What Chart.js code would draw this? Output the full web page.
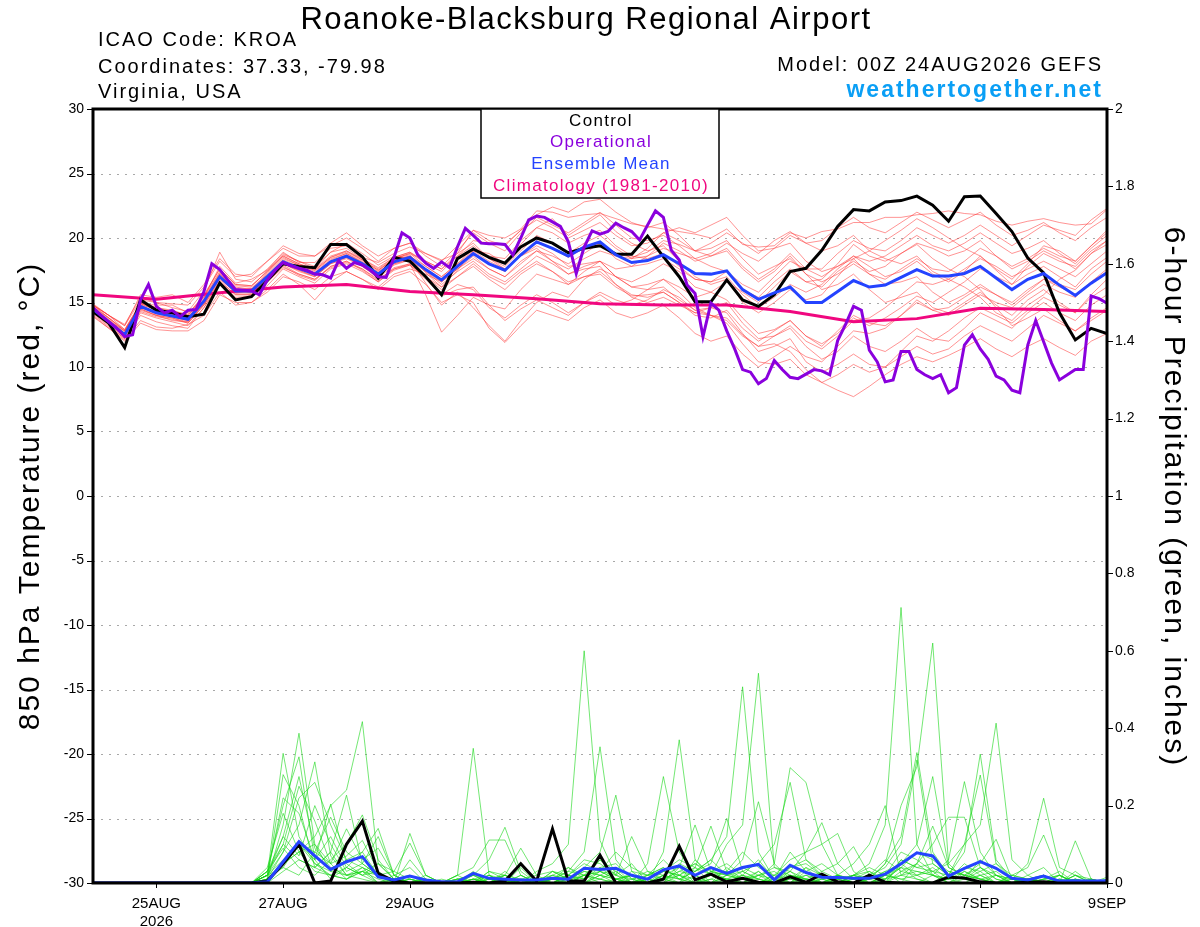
<!DOCTYPE html>
<html>
<head>
<meta charset="utf-8">
<script src="https://cdn.jsdelivr.net/npm/chart.js@4.4.1/dist/chart.umd.min.js"></script>
<style>
  html, body { margin: 0; padding: 0; background: #fff; }
</style>
</head>
<body>
<canvas id="meteogram" width="1200" height="927"></canvas>
<script>
// forecast hours from 00Z 24AUG2026
const hours6 = [0,6,12,18,24,30,36,42,48,54,60,66,72,78,84,90,96,102,108,114,120,126,132,138,144,150,156,162,168,174,180,186,192,198,204,210,216,222,228,234,240,246,252,258,264,270,276,282,288,294,300,306,312,318,324,330,336,342,348,354,360,366,372,378,384];
const hours3 = [0,3,6,9,12,15,18,21,24,27,30,33,36,39,42,45,48,51,54,57,60,63,66,69,72,75,78,81,84,87,90,93,96,99,102,105,108,111,114,117,120,123,126,129,132,135,138,141,144,147,150,153,156,159,162,165,168,171,174,177,180,183,186,189,192,195,198,201,204,207,210,213,216,219,222,225,228,231,234,237,240,243,246,249,252,255,258,261,264,267,270,273,276,279,282,285,288,291,294,297,300,303,306,309,312,315,318,321,324,327,330,333,336,339,342,345,348,351,354,357,360,363,366,369,372,375,378,381,384];
const climoHours = [0,24,48,72,96,120,144,168,192,216,240,264,288,312,336,360,384];
const precipHours = [60,66,72,78,84,90,96,102,108,114,120,126,132,138,144,150,156,162,168,174,180,186,192,198,204,210,216,222,228,234,240,246,252,258,264,270,276,282,288,294,300,306,312,318,324,330,336,342,348,354,360,366,372,378,384];

const tickHours = [24, 72, 120, 192, 240, 288, 336, 384];
const tickLabels = [['25AUG', '2026'], '27AUG', '29AUG', '1SEP', '3SEP', '5SEP', '7SEP', '9SEP'];

// 850 hPa temperature (C)
const controlTemp = [
  14.3, 13.4, 11.5, 15.2, 14.4, 14.2, 13.9, 14.1,
  16.5, 15.2, 15.45, 16.7, 18.0, 17.8, 17.7, 19.5,
  19.5, 18.55, 16.9, 18.5, 18.2, 17.0, 15.6, 18.4,
  19.15, 18.5, 18.05, 19.3, 20.0, 19.6, 18.85, 19.2,
  19.4, 18.75, 18.75, 20.15, 18.55, 17.0, 15.05, 15.05,
  16.75, 15.2, 14.7, 15.6, 17.4, 17.65, 19.05, 20.9,
  22.2, 22.1, 22.8, 22.9, 23.25, 22.55, 21.3, 23.2,
  23.25, 21.9, 20.5, 18.45, 17.3, 14.2, 12.1, 13.0,
  12.6
];
const meanTemp = [
  14.5, 13.5, 12.5, 14.7, 14.2, 13.95, 13.7, 15.1,
  17.0, 15.9, 15.9, 17.0, 18.15, 17.65, 17.2, 18.15,
  18.6, 18.0, 17.2, 18.15, 18.5, 17.55, 16.75, 17.8,
  18.8, 18.0, 17.5, 18.7, 19.7, 19.2, 18.6, 19.3,
  19.7, 18.7, 18.1, 18.25, 18.7, 18.0, 17.25, 17.2,
  17.45, 16.0, 15.25, 15.75, 16.2, 15.0, 15.0, 15.85,
  16.7, 16.2, 16.35, 16.95, 17.55, 17.05, 17.05, 17.25,
  17.8, 16.9, 16.0, 16.8, 17.25, 16.35, 15.55, 16.5,
  17.3
];
const operTemp = [
  14.6, 14.0, 13.5, 13.0, 12.35, 12.5, 15.2, 16.4,
  14.7, 14.2, 14.4, 13.9, 14.4, 14.45, 15.85, 18.0,
  17.55, 16.75, 16.0, 15.95, 15.9, 15.6, 16.75, 17.5,
  18.1, 17.85, 17.65, 17.5, 17.2, 17.15, 16.9, 18.25,
  17.65, 18.1, 17.9, 17.5, 17.0, 16.95, 18.5, 20.4,
  20.0, 18.7, 18.05, 17.65, 18.15, 17.7, 19.3, 20.75,
  20.2, 19.6, 19.55, 19.55, 19.5, 18.7, 20.0, 21.4,
  21.7, 21.6, 21.25, 20.9, 19.7, 17.25, 19.3, 20.55,
  20.3, 20.5, 21.15, 20.8, 20.5, 19.85, 21.0, 22.1,
  21.6, 19.05, 18.3, 16.35, 15.7, 12.35, 14.95, 14.4,
  12.8, 11.4, 9.8, 9.6, 8.7, 9.1, 10.5, 9.8,
  9.2, 9.1, 9.45, 9.8, 9.7, 9.4, 12.05, 13.3,
  14.7, 14.4, 11.3, 10.4, 8.85, 9.0, 11.2, 11.2,
  9.8, 9.4, 9.1, 9.4, 8.0, 8.4, 11.7, 12.5,
  11.4, 10.6, 9.3, 9.0, 8.2, 8.0, 11.7, 13.6,
  11.95, 10.3, 9.0, 9.4, 9.8, 9.8, 15.5, 15.3,
  14.95
];
const climoTemp = [15.6, 15.25, 15.75, 16.2, 16.4, 15.85, 15.6, 15.3, 14.9, 14.8, 14.8, 14.3, 13.5, 13.75, 14.55, 14.45, 14.3];

const memberTemps = [
  [14.8,14.0,12.9,14.9,14.8,14.8,14.2,15.4,17.8,16.5,16.8,17.5,18.9,18.1,18.1,19.2,19.4,18.5,18.1,18.8,19.3,
   18.8,18.3,18.8,20.6,20.2,20.0,20.7,22.1,22.0,21.6,21.8,21.9,21.5,21.1,20.9,20.7,20.5,20.3,20.0,20.7,
   19.5,19.3,19.4,20.4,20.0,20.5,20.7,21.2,21.2,21.6,21.6,21.8,21.9,22.1,21.9,21.8,21.3,21.0,21.3,21.5,21.2,21.0,21.1,22.2],
  [14.2,13.2,12.2,14.0,13.5,13.2,13.0,14.6,16.4,15.3,15.4,16.3,17.6,17.0,16.5,17.6,18.0,17.4,16.6,17.5,17.9,
   17.0,16.0,17.0,17.8,16.8,16.0,17.2,18.0,17.4,16.6,17.0,17.2,16.2,15.5,15.6,15.8,15.0,14.2,14.0,13.8,
   12.5,11.6,11.8,11.2,9.8,8.8,8.2,7.7,8.5,9.4,10.2,10.8,10.4,10.9,11.5,12.2,11.4,10.8,11.6,12.2,11.5,10.9,12.0,12.6],
  [14.6,13.7,12.7,14.9,14.4,14.1,13.9,15.3,17.3,16.2,16.0,17.3,18.5,17.9,17.5,18.5,18.9,18.3,17.5,18.4,18.7,
   17.3,16.2,17.5,19.0,18.8,18.0,19.5,20.8,21.5,20.2,21.0,21.8,20.5,19.6,19.0,19.4,18.2,17.0,16.4,16.8,
   15.0,14.2,15.0,16.0,15.2,15.6,17.0,18.4,19.0,19.8,20.6,21.5,20.8,20.0,19.2,18.6,17.5,16.4,17.2,17.8,17.0,16.2,17.6,18.5],
  [14.9,14.0,13.2,15.2,15.0,14.6,14.3,15.9,18.9,16.8,16.6,17.6,18.8,18.2,17.6,18.9,19.6,18.8,17.9,18.6,18.4,
   17.0,15.5,16.0,16.2,14.8,13.6,14.5,15.2,14.6,14.0,15.0,15.6,14.8,15.2,16.0,16.8,16.2,15.4,15.8,16.6,
   15.8,15.0,16.2,17.4,16.6,16.8,18.0,19.5,18.6,18.2,18.8,19.5,18.4,17.6,17.0,16.0,14.6,13.2,13.8,14.5,13.6,12.8,13.8,14.6],
  [14.0,13.0,12.0,13.4,12.9,12.8,12.8,13.6,15.6,15.0,15.0,15.8,17.0,16.6,16.0,17.0,17.4,16.8,16.2,17.2,17.6,
   17.2,16.6,17.6,18.4,17.6,17.0,18.0,19.0,18.6,18.0,18.8,19.6,18.8,18.5,18.9,19.8,19.5,19.0,19.6,20.4,
   19.6,18.8,19.8,20.5,19.6,19.0,19.4,20.2,19.0,18.4,18.0,18.6,17.4,16.8,16.2,15.4,14.2,13.6,14.8,15.6,16.8,17.5,18.8,19.5],
  [14.4,13.4,12.4,14.5,14.0,13.8,13.4,14.8,16.7,15.6,15.6,16.8,18.0,17.4,17.0,18.0,18.5,17.8,16.9,17.9,18.3,
   16.5,14.8,15.8,14.6,13.2,12.0,13.6,15.0,15.8,15.4,16.8,17.6,17.0,16.6,17.2,18.0,17.4,16.2,15.8,15.2,
   13.8,12.6,12.9,13.6,12.4,11.8,12.6,13.8,13.2,13.8,14.6,15.5,15.0,15.8,16.6,17.6,17.0,16.4,17.8,18.8,18.2,17.8,19.0,19.8],
  [14.7,13.8,12.8,14.8,14.5,14.3,14.1,15.6,17.6,16.4,16.3,17.4,18.7,18.2,17.8,18.9,19.2,18.4,17.6,18.5,18.9,
   18.2,17.6,18.6,19.8,19.6,19.5,20.6,21.8,22.4,22.0,22.8,23.0,22.0,21.2,20.8,21.2,20.2,19.0,18.6,19.2,
   17.8,16.8,17.6,18.8,17.6,17.0,17.8,18.6,17.8,17.0,17.4,18.2,17.2,16.6,17.4,18.6,17.6,16.8,18.0,19.4,19.0,18.2,19.4,20.6],
  [14.3,13.3,12.3,14.4,14.0,13.6,13.5,14.9,16.9,15.7,15.8,16.8,17.9,17.2,16.8,17.8,18.2,17.6,16.7,17.7,18.0,
   15.6,12.7,14.0,15.4,14.8,14.5,16.0,17.2,16.8,16.4,17.4,18.2,17.6,17.8,18.6,19.6,19.0,18.2,18.6,19.0,
   17.6,16.6,17.4,18.6,17.2,16.0,16.4,17.2,16.0,15.0,15.4,15.8,14.6,14.2,15.0,15.8,14.8,14.0,15.2,16.0,15.0,14.2,15.6,16.8],
  [14.5,13.6,12.6,14.6,14.1,13.9,13.6,15.0,17.0,16.0,15.9,17.1,18.2,17.6,17.3,18.2,18.7,18.1,17.3,18.3,18.6,
   17.8,17.0,18.0,19.0,18.2,17.6,18.6,19.4,18.8,17.8,18.0,18.2,17.0,16.2,16.0,16.2,15.2,14.4,14.6,14.2,
   12.6,11.2,11.6,12.2,10.4,9.6,10.2,11.0,10.2,10.0,10.8,11.6,11.0,11.4,12.4,13.2,12.6,12.0,13.0,14.0,13.4,12.8,13.6,14.4],
  [14.6,13.8,12.9,15.0,14.6,14.4,14.0,15.4,17.4,16.3,16.2,17.5,18.6,18.0,17.6,18.6,19.0,18.4,17.7,18.5,18.9,
   18.0,17.4,18.6,19.4,18.4,17.8,19.0,20.2,19.6,18.8,19.6,20.2,19.2,18.4,18.6,19.2,18.8,18.4,18.8,19.6,
   18.8,18.2,19.2,20.2,19.6,19.8,20.8,21.6,20.8,20.4,21.2,22.0,21.4,20.8,21.4,22.0,21.0,20.2,20.6,21.2,20.4,19.8,20.8,21.6],
  [14.1,13.1,12.2,14.2,13.8,13.5,13.2,14.6,16.6,15.4,15.5,16.6,17.8,17.1,16.7,17.8,18.2,17.5,16.6,17.6,18.0,
   17.0,16.2,17.0,18.0,17.0,16.4,17.4,18.2,17.4,16.4,17.0,17.4,16.4,15.6,15.4,15.8,15.0,14.0,13.8,14.4,
   13.0,12.0,12.8,13.6,12.4,11.6,12.8,14.0,13.4,13.2,14.0,15.2,14.4,14.0,14.8,15.6,15.0,14.6,15.6,16.4,15.8,15.4,16.6,17.6],
  [14.8,14.0,13.2,15.6,15.4,15.6,15.0,16.4,18.4,17.2,17.0,18.2,19.4,18.8,18.6,19.6,20.4,19.4,18.6,19.2,19.6,
   18.6,17.8,19.0,20.4,19.6,19.0,20.4,21.6,21.0,20.4,21.2,22.0,21.0,20.0,19.8,20.2,19.4,18.4,17.8,17.4,
   16.0,15.4,16.6,17.6,16.6,16.2,17.4,18.2,17.4,17.8,18.8,19.6,19.2,18.6,19.0,19.8,18.6,17.6,18.2,19.0,18.4,17.6,18.8,19.8],
  [14.2,13.3,12.4,14.3,13.9,13.7,13.4,14.8,16.6,15.6,15.6,16.6,17.7,17.2,16.8,17.7,18.1,17.6,16.8,17.6,17.9,
   16.8,15.6,16.4,16.0,14.6,13.8,14.8,15.6,15.0,14.2,15.0,15.8,15.2,14.8,15.2,16.0,15.4,14.4,14.0,13.6,
   12.4,11.6,12.4,13.0,11.6,10.6,11.2,12.4,11.6,11.2,12.0,13.0,12.2,12.0,13.0,14.2,13.6,13.0,14.2,15.0,14.2,13.6,14.8,15.6],
  [14.5,13.5,12.6,14.7,14.3,14.0,13.8,15.2,17.1,16.0,16.0,17.1,18.3,17.8,17.3,18.3,18.8,18.1,17.3,18.3,18.6,
   17.6,16.8,17.9,18.9,18.0,17.4,18.7,19.8,19.2,18.5,19.2,19.6,18.4,17.8,18.0,18.4,17.6,16.8,16.6,17.0,
   15.6,14.6,15.4,16.4,15.8,16.4,17.6,18.6,18.2,18.6,19.4,20.2,19.4,19.0,19.6,20.4,19.6,18.8,19.2,19.8,18.8,18.0,19.2,20.2],
  [14.4,13.6,12.8,14.8,14.2,13.9,13.6,15.1,17.2,16.0,15.8,16.9,18.0,17.5,17.0,18.0,18.4,17.8,17.0,18.0,18.4,
   17.4,16.6,17.6,18.6,17.6,17.0,18.2,19.0,18.2,17.2,17.6,17.8,16.4,15.4,15.0,15.4,14.8,14.2,14.6,15.0,
   13.4,12.2,12.4,13.2,12.0,11.4,12.4,13.6,13.8,14.6,15.6,16.6,16.4,16.8,17.6,18.4,17.8,17.0,17.6,18.2,17.6,17.0,18.0,19.0],
  [14.8,14.0,13.3,15.4,15.0,14.9,14.8,16.2,18.2,17.0,17.2,18.2,19.2,18.6,18.6,19.4,20.0,19.2,18.2,19.2,19.6,
   18.8,18.2,19.4,20.6,19.8,19.4,20.6,21.4,20.8,20.0,20.6,21.2,20.2,19.4,19.6,20.4,19.8,19.0,19.2,19.8,
   18.4,17.2,17.8,18.4,17.2,16.6,17.2,18.0,17.2,16.8,17.6,18.4,17.6,17.4,18.2,19.2,18.6,17.8,18.4,19.2,18.6,18.2,19.4,20.4],
  [14.3,13.4,12.5,14.5,14.0,13.8,13.5,14.9,16.8,15.8,15.7,16.9,18.0,17.5,17.1,18.1,18.5,17.9,17.1,18.0,18.3,
   17.4,16.4,17.4,18.2,17.2,16.6,17.6,18.6,18.0,17.2,17.8,18.2,17.0,16.2,16.4,16.8,15.8,14.6,14.0,13.4,
   11.8,10.4,10.2,10.6,9.4,8.8,9.4,10.2,9.6,10.0,11.2,12.4,12.0,12.8,13.8,14.6,14.0,13.4,14.4,15.4,14.8,14.2,15.4,16.2],
  [14.6,13.6,12.6,14.6,14.3,14.1,13.8,15.2,17.2,16.1,16.1,17.2,18.4,17.9,17.4,18.4,18.8,18.2,17.4,18.4,18.8,
   18.2,17.6,18.8,19.6,18.4,17.6,18.6,19.2,18.2,17.6,18.4,19.0,18.6,18.4,19.2,20.4,20.8,20.4,21.0,21.6,
   20.2,19.0,19.2,19.6,18.2,17.4,17.8,18.4,17.2,16.4,16.6,17.0,15.8,15.0,15.6,16.4,15.6,14.8,15.8,16.8,16.4,16.0,17.2,18.2],
  [13.9,13.0,12.1,13.6,13.1,13.0,13.3,14.0,15.8,14.8,15.0,16.0,17.2,16.4,15.2,16.6,17.4,16.8,16.0,17.0,17.4,
   16.4,15.0,15.6,15.0,13.0,11.9,13.2,14.4,14.0,13.6,14.6,15.2,14.2,13.8,14.2,14.8,13.8,12.6,12.0,12.4,
   11.0,10.0,10.8,11.6,10.8,10.4,11.6,12.8,12.6,13.0,14.0,15.0,14.4,14.6,15.4,16.2,15.6,15.0,16.0,16.8,16.2,15.6,16.6,17.4],
  [14.8,13.8,12.8,14.9,14.6,14.3,14.0,15.5,17.6,16.4,16.3,17.4,18.6,18.0,17.5,18.5,19.0,18.3,17.5,18.4,18.8,
   17.8,17.0,18.0,19.2,18.6,18.4,19.8,20.8,20.4,19.6,20.2,20.6,19.4,18.6,18.4,18.8,17.8,16.8,16.6,17.4,
   16.4,15.8,17.0,18.2,17.6,17.6,18.8,19.8,19.2,19.0,19.8,20.8,20.2,19.6,20.2,21.0,20.2,19.4,20.2,21.0,20.6,20.2,21.4,22.3]
];

// 6-hour precipitation (inches)
const controlPrecip = [
  0, 0, 0, 0, 0, 0, 0, 0,
  0, 0, 0, 0.005, 0.05, 0.10, 0, 0.005,
  0.10, 0.16, 0.025, 0.005, 0, 0, 0, 0,
  0.002, 0, 0.005, 0.05, 0.005, 0.14, 0.005, 0.005,
  0.072, 0, 0, 0, 0.01, 0.095, 0.008, 0.023,
  0.003, 0.012, 0.002, 0, 0.016, 0.002, 0.023, 0.003,
  0, 0.02, 0.002, 0, 0, 0, 0.015, 0.013,
  0.003, 0, 0, 0.002, 0.003, 0, 0, 0,
  0
];
const meanPrecip = [
  0, 0, 0, 0, 0, 0, 0, 0,
  0, 0, 0, 0.003, 0.055, 0.107, 0.07, 0.035,
  0.055, 0.068, 0.016, 0.008, 0.018, 0.008, 0.003, 0.003,
  0.025, 0.012, 0.01, 0.008, 0.008, 0.012, 0.01, 0.038,
  0.035, 0.038, 0.02, 0.01, 0.034, 0.044, 0.02, 0.04,
  0.025, 0.04, 0.048, 0.008, 0.046, 0.027, 0.015, 0.014,
  0.012, 0.012, 0.023, 0.05, 0.078, 0.07, 0.018, 0.038,
  0.055, 0.038, 0.012, 0.008, 0.018, 0.005, 0.006, 0.005,
  0.006
];
const memberPrecips = [
  [0, .02,.335,.12,.05,.02,.01, .03,.01,0,.128,.02,0, 0,.01,0,0,.02,0, .01,.03,.08,.352,.06,.01, 0,.02,.04,0,.01,.03, 0,.02,0,.01,.04,0, .01,.02,.05,.15,.712,.1, .02,0,.01,.03,0,0, .01,.02,0,.109,.01,0],
  [0, .01,.15,.387,.1,.03,.02, .04,0,0,.01,0,0, .02,.348,.02,0,0,.01, 0,.01,.03,.02,.01,0, .02,.04,.01,.03,.06,.12, .507,.08,.01,.02,0,.01, 0,.02,0,.01,.06,.04, .05,.02,.08,.333,.06,.01, 0,.01,.02,0,.01,0],
  [0, .03,.2,.326,.06,.01,.04, .08,.02,0,.01,0,0, 0,0,.01,.02,0,.03, .05,.1,.6,.11,.02,0, .01,0,.02,0,.03,.01, 0,.01,0,.03,.01,0, .02,0,.01,.05,.2,.3, .62,.05,.01,.02,0,0, .01,0,.02,0,0,0],
  [0, .02,.12,.275,.09,.04,.02, .03,.05,.01,0,0,0, .01,.02,.06,.144,.03,0, 0,.02,.01,.04,.01,.02, 0,.01,.03,.05,.02,.1, .15,.542,.04,.02,.01,0, 0,.01,0,.02,.01,.02, .03,.05,.1,.15,.413,.06, .02,0,0,.01,0,0],
  [0, .01,.08,.15,.313,.07,.02, .01,0,.02,0,0,0, 0,.03,0,.01,0,.01, .02,0,.04,.08,.227,.03, 0,.01,.02,0,.01,0, .02,.01,.05,.298,.26,.1, .02,.01,0,.02,.04,.01, 0,.02,.01,.04,.02,.01, .05,.219,.04,.02,0,.01],
  [0, 0,.05,.1,.06,.204,.05, .02,.03,0,0,.01,0, 0,.01,.02,0,.04,0, .01,0,.02,.03,.01,.02, 0,.08,.37,.06,.02,.01, 0,.03,0,.01,.02,0, 0,.02,.01,.05,.12,.337, .08,.02,.01,0,.02,0, 0,.01,0,.02,.01,0],
  [0, .02,.1,.06,.04,.08,.227, .05,.02,.01,0,0,.01, 0,0,.03,.01,0,0, .02,.04,.01,.06,.03,0, .05,.275,.08,.02,.04,0, .02,0,.01,0,.01,.03, .01,0,.02,.04,.1,.318, .05,.02,.1,.279,.05,.01, 0,.02,0,.01,0,0],
  [0, .01,.05,.08,.12,.2,.24, .417,.05,.01,0,0,0, .01,0,0,.02,.01,0, 0,.01,.03,.02,0,.01, 0,.02,.01,.03,.05,.167, .03,.01,0,.02,.01,0, .02,.05,.1,.2,.02,.01, 0,.01,0,.02,0,.01, 0,0,.01,0,0,0],
  [0, .03,.09,.04,.02,.06,.1, .176,.06,.01,0,0,0, 0,.02,.01,0,0,.01, 0,.02,.05,.03,.01,0, .01,.03,.02,.04,0,.02, .06,.21,.05,.01,0,.02, 0,.01,.02,0,.05,.1, .275,.04,.02,.01,0,0, .01,0,.02,0,.01,0],
  [0, .02,.04,.1,.05,.03,.06, .08,.141,.02,0,.01,0, .02,.04,.111,.111,.02,0, .01,0,.02,.01,0,.03, .02,.01,0,.02,0,.01, .03,.05,.1,.26,.06,.02, .01,0,.01,0,.02,.03, .02,.06,.262,.08,.02,0, .01,0,0,.02,0,0],
  [0, .01,.05,.08,.03,.02,.04, .02,.05,.03,.103,.02,0, 0,.01,0,.02,0,0, .01,.03,.02,.06,.02,.12, .03,.01,0,.04,.02,.01, 0,.02,.04,.03,.08,.156, .05,.01,0,.02,.01,0, .02,.01,.03,.01,0,.02, .04,.124,.02,0,.01,0],
  [0, 0,.03,.06,.04,.02,.01, .03,.02,0,.06,.01,0, 0,0,.03,.02,.09,.02, 0,.02,0,.01,.03,0, .01,0,.04,.15,.03,.02, .01,0,.02,.06,.08,.1, .128,.03,0,.01,.02,.05, .1,.17,.17,.04,.01,0, 0,.02,0,.01,0,0],
  [0, .01,.04,.02,.08,.05,.01, .04,.02,.01,0,0,0, .01,0,.02,0,.01,.02, .03,.01,0,.02,.01,0, .02,.03,.06,.04,.147,.03, .01,0,.02,.04,.06,.03, .05,.094,.02,0,.03,.05, .147,.04,.02,.05,.113,.01, 0,.01,.02,0,0,0],
  [0, .02,.22,.18,.06,.12,.04, .02,0,.01,0,0,0, .01,.02,0,0,.01,0, .03,.01,.02,0,.01,.02, 0,.01,.03,.02,0,.04, .01,.03,0,.02,.01,0, .02,0,.01,.03,.05,.02, 0,.03,.02,.01,0,.02, .01,0,.01,0,0,.015],
  [0, .03,.1,.25,.16,.05,.07, .11,.03,0,.01,0,0, 0,.01,0,.03,0,.01, 0,.02,.06,.05,.02,.01, .03,.02,0,.06,.02,.03, .08,.04,.02,0,.03,.05, .02,.01,.02,.06,.03,.02, .04,.01,.05,.02,.03,0, .02,.04,0,.02,0,0],
  [0, .04,.18,.08,.1,.05,.14, .06,.09,.02,.04,0,0, .02,0,.01,0,.02,0, .01,.04,.02,.01,0,.02, .01,0,.05,.03,.06,.02, .04,.02,.01,.08,.03,0, .01,.02,.04,.02,.08,.06, .03,.02,.01,.06,.02,.01, 0,.01,.03,0,0,0],
  [0, .02,.08,.22,.26,.15,.06, .04,.02,.03,.01,0,0, 0,.01,0,0,.01,0, 0,0,.02,.04,.05,.01, .02,.04,.01,0,.02,.01, .02,.06,.01,0,.02,.01, 0,.02,.03,.01,.04,.08, .06,.03,.02,.04,.01,0, .01,0,0,.01,0,0],
  [0, .03,.12,.07,.2,.1,.03, .05,.12,.02,0,.01,0, 0,0,.02,.01,0,0, .03,.02,.01,.03,.08,.04, .02,.06,.02,.05,.03,.02, .03,.01,0,.04,.05,.02, .01,0,.02,.01,.04,.03, .02,.01,.04,.03,.05,.02, .01,.02,0,.03,0,0],
  [0, .01,.28,.2,.04,.08,.02, .03,0,.01,.02,0,0, 0,.02,0,.01,0,0, .02,.01,0,.02,.04,0, 0,.02,.01,0,.03,.05, .02,0,.01,.03,0,.01, .02,.01,.03,0,.06,.04, .03,0,.02,.01,0,.01, 0,0,.01,0,0,0],
  [0, .02,.06,.1,.08,.17,.08, .05,.02,0,0,.02,0, .01,0,.01,.02,0,0, .01,.02,0,.03,.02,.05, 0,.03,.02,.01,0,.02, .01,.02,.03,0,.04,.02, 0,.02,.01,.03,0,.05, .02,0,.03,.01,.02,0, .01,0,0,0,0,0]
];

const FONT = '"Liberation Sans", Arial, Helvetica, sans-serif';
const pts = (xs, ys) => xs.map((x, i) => ({ x: x, y: ys[i] }));

function series(xs, ys, color, width, axis) {
  return {
    data: pts(xs, ys),
    borderColor: color,
    borderWidth: width,
    pointRadius: 0,
    fill: false,
    tension: 0,
    yAxisID: axis
  };
}

// first dataset is drawn on top
const datasets = [
  series(hours3, operTemp, '#8a00dd', 3, 'y'),
  series(hours6, meanTemp, '#2443ff', 3, 'y'),
  series(hours6, controlTemp, '#000000', 3, 'y'),
  series(hours6, meanPrecip, '#2443ff', 3, 'y2'),
  series(hours6, controlPrecip, '#000000', 3, 'y2'),
  series(climoHours, climoTemp, '#f0077f', 3, 'y')
];
memberTemps.forEach(m => datasets.push(series(hours6, m, 'rgba(255,50,50,0.75)', 0.7, 'y')));
memberPrecips.forEach(m => datasets.push(series(precipHours, m, 'rgba(20,215,20,0.85)', 0.7, 'y2')));

const decorations = {
  id: 'decorations',
  beforeDatasetsDraw(chart) {
    const ctx = chart.ctx, a = chart.chartArea;
    const y = chart.scales.y, y2 = chart.scales.y2, x = chart.scales.x;
    ctx.save();
    // dotted grid
    ctx.strokeStyle = '#a8a8a8';
    ctx.lineWidth = 1;
    ctx.setLineDash([2, 6]);
    y.ticks.forEach(t => {
      if (t.value <= -30 || t.value >= 30) return;
      const py = Math.round(y.getPixelForValue(t.value)) + 0.5;
      ctx.beginPath(); ctx.moveTo(a.left, py); ctx.lineTo(a.right, py); ctx.stroke();
    });
    ctx.setLineDash([]);
    ctx.strokeStyle = '#000';
    y.ticks.forEach(t => {
      const py = Math.round(y.getPixelForValue(t.value)) + 0.5;
      ctx.beginPath(); ctx.moveTo(a.left - 6, py); ctx.lineTo(a.left, py); ctx.stroke();
    });
    y2.ticks.forEach(t => {
      const py = Math.round(y2.getPixelForValue(t.value)) + 0.5;
      ctx.beginPath(); ctx.moveTo(a.right, py); ctx.lineTo(a.right + 6, py); ctx.stroke();
    });
    x.ticks.forEach(t => {
      const px = Math.round(x.getPixelForValue(t.value)) + 0.5;
      ctx.beginPath(); ctx.moveTo(px, a.bottom); ctx.lineTo(px, a.bottom + 5); ctx.stroke();
    });
    ctx.restore();
  },
  afterDatasetsDraw(chart) {
    const ctx = chart.ctx, a = chart.chartArea;
    ctx.save();
    ctx.strokeStyle = '#000';
    ctx.lineWidth = 3;
    ctx.strokeRect(a.left, a.top, a.right - a.left, a.bottom - a.top);

    // legend box
    const cx = (a.left + a.right) / 2;
    ctx.fillStyle = '#fff';
    ctx.fillRect(cx - 119, a.top, 238, 89);
    ctx.lineWidth = 1.5;
    ctx.strokeRect(cx - 119, a.top, 238, 89);
    ctx.letterSpacing = '1.3px';
    ctx.font = '17px ' + FONT;
    ctx.textAlign = 'center';
    ctx.textBaseline = 'middle';
    const rows = [['Control', '#000000'], ['Operational', '#8a00dd'], ['Ensemble Mean', '#2443ff'], ['Climatology (1981-2010)', '#f0077f']];
    rows.forEach((r, i) => {
      ctx.fillStyle = r[1];
      ctx.fillText(r[0], cx + 1, a.top + 12 + i * 21.7);
    });
    ctx.restore();
  },
  afterDraw(chart) {
    const ctx = chart.ctx, a = chart.chartArea;
    ctx.save();
    ctx.letterSpacing = '1.5px';
    ctx.fillStyle = '#000';
    ctx.textBaseline = 'alphabetic';
    ctx.textAlign = 'center';
    ctx.font = '31px ' + FONT;
    ctx.fillText('Roanoke-Blacksburg Regional Airport', 586, 28.5);

    ctx.letterSpacing = '2px';
    ctx.textAlign = 'left';
    ctx.font = '20px ' + FONT;
    ctx.fillText('ICAO Code: KROA', 98, 46);
    ctx.fillText('Coordinates: 37.33, -79.98', 98, 73);
    ctx.fillText('Virginia, USA', 98, 98);

    ctx.textAlign = 'right';
    ctx.fillText('Model: 00Z 24AUG2026 GEFS', 1103, 70.5);
    ctx.font = 'bold 23px ' + FONT;
    ctx.fillStyle = '#0a9ff5';
    ctx.fillText('weathertogether.net', 1103, 97);

    // axis titles
    ctx.fillStyle = '#000';
    ctx.font = '30px ' + FONT;
    ctx.textAlign = 'center';
    ctx.textBaseline = 'middle';
    const cy = (a.top + a.bottom) / 2;
    ctx.save();
    ctx.translate(31, cy);
    ctx.rotate(-Math.PI / 2);
    ctx.fillText('850 hPa Temperature (red, \u00B0C)', 0, 0);
    ctx.restore();
    ctx.save();
    ctx.translate(1173, cy + 1);
    ctx.rotate(Math.PI / 2);
    ctx.fillText('6-hour Precipitation (green, inches)', 0, 0);
    ctx.restore();
    ctx.restore();
  }
};

new Chart(document.getElementById('meteogram').getContext('2d'), {
  type: 'line',
  data: { datasets: datasets },
  options: {
    responsive: false,
    animation: false,
    events: [],
    layout: { padding: { top: 109, left: 0, right: 0, bottom: 0 } },
    plugins: { legend: { display: false }, tooltip: { enabled: false }, title: { display: false } },
    scales: {
      x: {
        type: 'linear',
        min: 0,
        max: 384,
        afterBuildTicks: ax => { ax.ticks = tickHours.map(v => ({ value: v })); },
        afterFit: s => { s.height = 44; },
        grid: { display: false, drawTicks: false },
        border: { display: false },
        ticks: {
          autoSkip: false,
          maxRotation: 0,
          padding: 12,
          color: '#000',
          font: { family: FONT, size: 15 },
          callback: (v, i) => tickLabels[i]
        }
      },
      y: {
        position: 'left',
        min: -30,
        max: 30,
        afterFit: s => { s.width = 93; },
        grid: { display: false, drawTicks: false },
        border: { display: false },
        ticks: { stepSize: 5, padding: 9, color: '#000', font: { family: FONT, size: 14 } }
      },
      y2: {
        position: 'right',
        min: 0,
        max: 2,
        afterFit: s => { s.width = 93; },
        grid: { display: false, drawTicks: false },
        border: { display: false },
        ticks: {
          stepSize: 0.2,
          padding: 8,
          color: '#000',
          font: { family: FONT, size: 14 },
          callback: v => String(Math.round(v * 10) / 10)
        }
      }
    }
  },
  plugins: [decorations]
});
</script>
</body>
</html>
